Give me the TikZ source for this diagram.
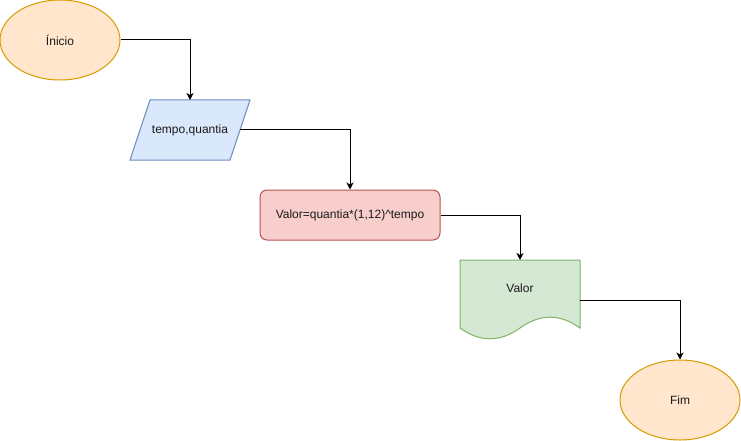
\documentclass[tikz,border=0pt]{standalone}
\usepackage{fontspec}
\setmainfont{Liberation Sans}
\usetikzlibrary{shapes.geometric,arrows.meta}
\definecolor{orfill}{HTML}{FFE6CC}\definecolor{ordraw}{HTML}{D79B00}
\definecolor{blfill}{HTML}{DAE8FC}\definecolor{bldraw}{HTML}{6C8EBF}
\definecolor{rdfill}{HTML}{F8CECC}\definecolor{rddraw}{HTML}{B85450}
\definecolor{grfill}{HTML}{D5E8D4}\definecolor{grdraw}{HTML}{82B366}
\definecolor{txt}{HTML}{1A1A1A}
\begin{document}
\begin{tikzpicture}[x=1pt,y=-1pt,
  every node/.style={font=\fontsize{12}{14}\selectfont, text=txt},
  term/.style={ellipse, draw=ordraw, fill=orfill, line width=1pt, minimum width=120pt, minimum height=80pt, inner sep=0pt},
  procbox/.style={rectangle, rounded corners=7pt, draw=rddraw, fill=rdfill, line width=1pt, minimum width=180pt, minimum height=50pt, inner sep=0pt},
  lbl/.style={inner sep=0pt},
  conn/.style={draw=black, line width=1pt, -{Stealth[length=7pt,width=7pt,inset=2pt]}}]
\useasboundingbox (0,0) rectangle (741,441);
\fill[white] (0,0) rectangle (741,441);
% start
\node[term] (ini) at (60,40) {Ínicio};
% input parallelogram
\filldraw[draw=bldraw, fill=blfill, line width=1pt] (150,100) -- (250,100) -- (230,160) -- (130,160) -- cycle;
\node[lbl] (inp) at (190,130) {tempo,quantia};
\coordinate (inpT) at (190,100);
\coordinate (inpR) at (240,130);
% process
\node[procbox] (proc) at (350,215) {Valor=quantia*(1,12)\^{}tempo};
% document
\filldraw[draw=grdraw, fill=grfill, line width=1pt] (460,260) -- (580,260) -- (580,328)
  .. controls (560,313.6) and (540,313.6) .. (520,328)
  .. controls (500,342.4) and (480,342.4) .. (460,328) -- cycle;
\node[lbl] (doc) at (520,288) {Valor};
\coordinate (docT) at (520,260);
\coordinate (docR) at (580,300);
% end
\node[term] (fim) at (680,400) {Fim};
% connectors
\draw[conn] (ini.east) -| (inpT);
\draw[conn] (inpR) -| (proc.north);
\draw[conn] (proc.east) -| (docT);
\draw[conn] (docR) -| (fim.north);
\end{tikzpicture}
\end{document}
